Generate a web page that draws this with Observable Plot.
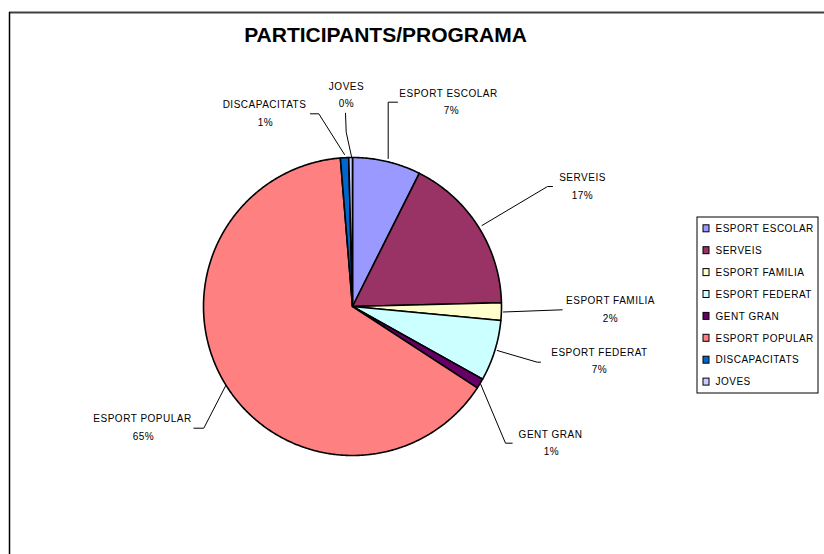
<!DOCTYPE html>
<html>
<head>
<meta charset="utf-8">
<script src="https://cdn.jsdelivr.net/npm/d3@7"></script>
<script src="https://cdn.jsdelivr.net/npm/@observablehq/plot@0.6"></script>
<style>
  html, body { margin: 0; padding: 0; background: #fff; }
  #chart svg text { letter-spacing: 0.5px; }
  #chart svg g[font-weight="bold"] text { letter-spacing: 0px; }
</style>
</head>
<body>
<div id="chart"></div>
<script>
// ---- data ----
const title = "PARTICIPANTS/PROGRAMA";
const categories = ["ESPORT ESCOLAR", "SERVEIS", "ESPORT FAMILIA", "ESPORT FEDERAT", "GENT GRAN", "ESPORT POPULAR", "DISCAPACITATS", "JOVES"];
const shares = [7.4, 17.2, 1.9, 6.6, 1.1, 64.5, 0.9, 0.4];
const pctLabels = ["7%", "17%", "2%", "7%", "1%", "65%", "1%", "0%"];

// ---- style / layout ----
const colors = ["#9999FF", "#993366", "#FFFFCC", "#CCFFFF", "#660066", "#FF8080", "#0066CC", "#CCCCFF"];
const W = 824, H = 554;
const cx = 352, cy = 306, R = 149;
// label anchor (center x, baseline of first line)
const labelPos = [
  [448, 96], [582, 180], [610, 303], [599, 355], [550, 437], [142, 421], [264, 107], [346, 89]
];
const pctPos = [
  [451, 113], [582, 198], [610, 321], [599, 372], [551, 454], [143, 439], [265, 125], [346, 106]
];
const leaders = [
  [[397, 101.7], [387.7, 101.7], [387.7, 158]],
  [[552, 186], [547, 186], [481.5, 225]],
  [[561.7, 309.3], [503, 311.5]],
  [[540, 361.7], [536.7, 361.7], [496.7, 350]],
  [[511.7, 442.7], [505, 442.7], [480, 383.3]],
  [[193.3, 427.7], [203.3, 427.7], [225.3, 385]],
  [[310, 113.3], [318.3, 113.3], [344, 154]],
  [[345, 112.7], [345.7, 131.7], [351, 156]]
];
const legendBox = {x1: 697, x2: 818, y1: 217, y2: 393};
const legendRow0 = 228.3, legendStep = 21.9;

// ---- build wedges via d3.pie ----
const arcs = d3.pie().sort(null)(shares);
const wedgePts = [];
arcs.forEach((a, i) => {
  const cat = categories[i];
  wedgePts.push({cat, x: cx, y: cy});
  const n = Math.max(2, Math.ceil((a.endAngle - a.startAngle) / (Math.PI / 360)));
  for (let k = 0; k <= n; k++) {
    const t = a.startAngle + (a.endAngle - a.startAngle) * k / n;
    wedgePts.push({cat, x: cx + R * Math.sin(t), y: cy - R * Math.cos(t)});
  }
  wedgePts.push({cat, x: cx, y: cy});
});

const leaderPts = leaders.flatMap((pts, i) => pts.map(([x, y]) => ({cat: categories[i], x, y})));
const labels = categories.map((c, i) => ({cat: c, x: labelPos[i][0], y: labelPos[i][1]}));
const pcts = pctLabels.map((p, i) => ({text: p, x: pctPos[i][0], y: pctPos[i][1]}));
const legendRows = categories.map((c, i) => ({cat: c, y: legendRow0 + i * legendStep}));

const chart = Plot.plot({
  width: W,
  height: H,
  margin: 0,
  style: {fontFamily: "'Liberation Sans', Arial, sans-serif", fontSize: "10px", background: "#fff", color: "#000"},
  x: {domain: [0, W], range: [0, W], axis: null},
  y: {domain: [0, H], range: [0, H], axis: null},
  color: {domain: categories, range: colors},
  marks: [
    // chart-area frame
    Plot.ruleY([12], {x1: 9, x2: W, stroke: "#404040", strokeWidth: 2}),
    Plot.ruleX([9], {y1: 12, y2: H, stroke: "#000", strokeWidth: 1.5}),
    // title
    Plot.text([title], {x: 385, y: 41, text: d => d, fontSize: 21, fontWeight: "bold", lineAnchor: "bottom", fill: "#000"}),
    // pie wedges
    Plot.line(wedgePts, {x: "x", y: "y", z: "cat", fill: "cat", stroke: "#000", strokeWidth: 1.6, strokeLinejoin: "round", curve: "linear"}),
    // leader lines
    Plot.line(leaderPts, {x: "x", y: "y", z: "cat", stroke: "#000", strokeWidth: 1}),
    // labels
    Plot.text(labels, {x: "x", y: "y", text: "cat", lineAnchor: "bottom", textAnchor: "middle", fill: "#000"}),
    Plot.text(pcts, {x: "x", y: "y", text: "text", lineAnchor: "bottom", textAnchor: "middle", fill: "#000"}),
    // legend
    Plot.rect([legendBox], {x1: "x1", x2: "x2", y1: "y1", y2: "y2", fill: "#fff", stroke: "#000", strokeWidth: 1}),
    Plot.rect(legendRows, {x1: () => 703, x2: () => 709, y1: d => d.y - 3.5, y2: d => d.y + 3.5, fill: "cat", stroke: "#000", strokeWidth: 1}),
    Plot.text(legendRows, {x: () => 715, y: "y", text: "cat", textAnchor: "start", lineAnchor: "middle", fill: "#000"})
  ]
});
document.getElementById("chart").appendChild(chart);
</script>
</body>
</html>
